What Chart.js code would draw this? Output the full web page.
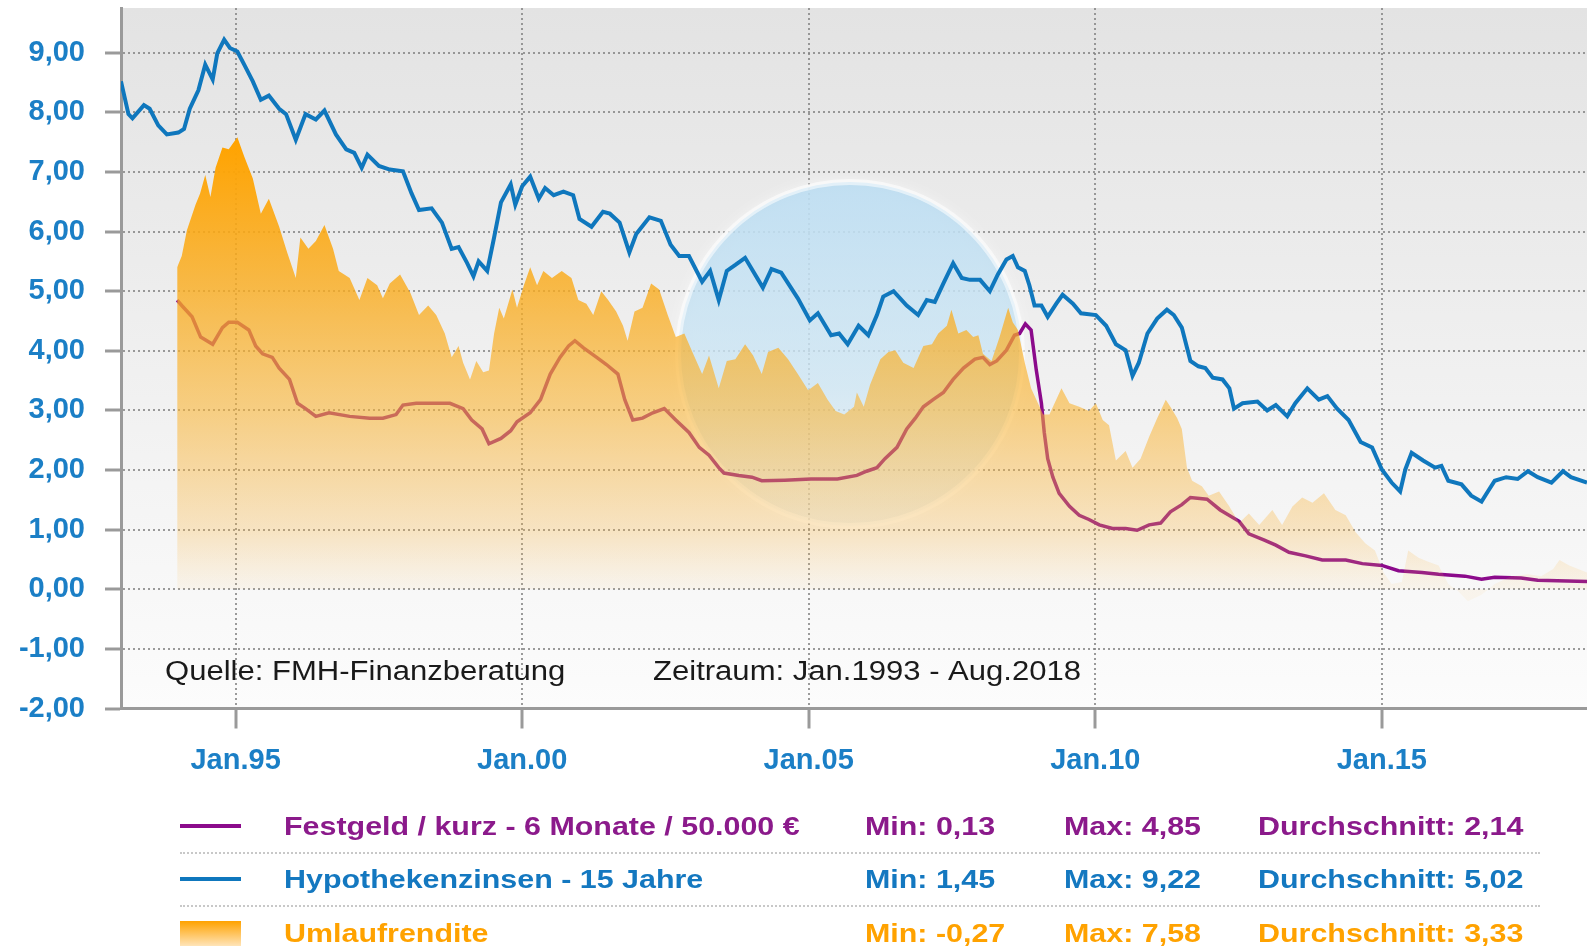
<!DOCTYPE html>
<html lang="de">
<head>
<meta charset="utf-8">
<title>Festgeld, Hypothekenzinsen, Umlaufrendite</title>
<script src="https://cdn.jsdelivr.net/npm/chart.js@4.4.1/dist/chart.umd.min.js"></script>
<style>
    html, body { margin: 0; padding: 0; background: #fff; }
    #wrap { position: relative; width: 1587px; height: 948px; overflow: hidden; }
    #chart { position: absolute; left: 0; top: 0; }
    .lg-text {
        position: absolute;
        font: bold 26px 'Liberation Sans', Arial, sans-serif;
        white-space: nowrap;
        transform: scaleX(1.17);
        transform-origin: left center;
        line-height: 30px;
    }
    .lg-line { position: absolute; left: 180px; width: 61px; height: 4px; }
    .lg-box { position: absolute; left: 180px; width: 61px; height: 25px;
        background: linear-gradient(#ffa200, #ffe4b8); }
    .lg-sep { position: absolute; left: 180px; width: 1360px; border-top: 2px dotted #c8c8c8; }
</style>
</head>
<body>
<div id="wrap">
    <canvas id="chart" width="1587" height="948"></canvas>
    <div id="legend"></div>
</div>
<script>
// Hypothekenzinsen - 15 Jahre
const hypYears = [1993.00, 1993.13, 1993.20, 1993.40, 1993.50, 1993.65, 1993.80, 1994.00, 1994.10, 1994.20,
    1994.35, 1994.47, 1994.60, 1994.68, 1994.80, 1994.90, 1995.03, 1995.15, 1995.30, 1995.44,
    1995.58, 1995.76, 1995.88, 1996.05, 1996.22, 1996.40, 1996.55, 1996.75, 1996.93, 1997.07,
    1997.20, 1997.30, 1997.50, 1997.69, 1997.92, 1998.07, 1998.20, 1998.42, 1998.60, 1998.77,
    1998.89, 1999.04, 1999.15, 1999.24, 1999.39, 1999.51, 1999.63, 1999.80, 1999.88, 2000.00,
    2000.14, 2000.29, 2000.40, 2000.55, 2000.72, 2000.89, 2001.00, 2001.21, 2001.41, 2001.53,
    2001.70, 2001.87, 2001.99, 2002.22, 2002.42, 2002.59, 2002.74, 2002.91, 2003.14, 2003.28,
    2003.43, 2003.57, 2003.72, 2003.89, 2004.20, 2004.35, 2004.52, 2004.81, 2005.02, 2005.16,
    2005.39, 2005.53, 2005.68, 2005.87, 2006.04, 2006.19, 2006.30, 2006.48, 2006.71, 2006.91,
    2007.06, 2007.20, 2007.35, 2007.52, 2007.67, 2007.81, 2007.99, 2008.16, 2008.30, 2008.45,
    2008.56, 2008.65, 2008.77, 2008.85, 2008.94, 2009.06, 2009.17, 2009.32, 2009.43, 2009.61,
    2009.75, 2010.01, 2010.19, 2010.36, 2010.53, 2010.65, 2010.76, 2010.91, 2011.08, 2011.25,
    2011.37, 2011.51, 2011.66, 2011.80, 2011.92, 2012.05, 2012.22, 2012.34, 2012.42, 2012.57,
    2012.83, 2013.00, 2013.15, 2013.35, 2013.49, 2013.70, 2013.90, 2014.05, 2014.22, 2014.42,
    2014.63, 2014.83, 2015.00, 2015.17, 2015.32, 2015.41, 2015.52, 2015.72, 2015.93, 2016.04,
    2016.16, 2016.39, 2016.56, 2016.74, 2016.85, 2016.97, 2017.17, 2017.37, 2017.55, 2017.72,
    2017.96, 2018.16, 2018.30, 2018.58];
const hypValues = [8.52, 7.97, 7.90, 8.12, 8.06, 7.78, 7.63, 7.66, 7.72, 8.06,
    8.37, 8.80, 8.55, 8.99, 9.22, 9.08, 9.02, 8.80, 8.52, 8.21,
    8.28, 8.06, 7.97, 7.54, 7.97, 7.88, 8.03, 7.63, 7.38, 7.32,
    7.07, 7.29, 7.10, 7.04, 7.01, 6.64, 6.36, 6.39, 6.15, 5.71,
    5.74, 5.47, 5.25, 5.50, 5.34, 5.90, 6.49, 6.79, 6.45, 6.76,
    6.92, 6.55, 6.73, 6.61, 6.67, 6.61, 6.21, 6.08, 6.33, 6.30,
    6.15, 5.65, 5.96, 6.24, 6.18, 5.78, 5.59, 5.59, 5.16, 5.34,
    4.85, 5.34, 5.44, 5.56, 5.06, 5.37, 5.31, 4.88, 4.51, 4.63,
    4.26, 4.29, 4.11, 4.42, 4.26, 4.60, 4.91, 5.00, 4.76, 4.60,
    4.85, 4.82, 5.13, 5.47, 5.22, 5.19, 5.19, 5.00, 5.28, 5.53,
    5.59, 5.40, 5.34, 5.10, 4.76, 4.76, 4.57, 4.79, 4.94, 4.79,
    4.63, 4.60, 4.42, 4.11, 4.01, 3.58, 3.80, 4.29, 4.54, 4.69,
    4.60, 4.39, 3.83, 3.74, 3.71, 3.55, 3.52, 3.37, 3.03, 3.12,
    3.15, 3.00, 3.09, 2.90, 3.12, 3.37, 3.18, 3.24, 3.03, 2.84,
    2.47, 2.38, 2.01, 1.79, 1.64, 2.01, 2.29, 2.16, 2.04, 2.07,
    1.82, 1.76, 1.57, 1.47, 1.64, 1.82, 1.88, 1.85, 1.98, 1.88,
    1.79, 1.98, 1.88, 1.79];

// Festgeld / kurz - 6 Monate / 50.000 €
const festYears = [1993.98, 1994.06, 1994.24, 1994.39, 1994.60, 1994.77, 1994.88, 1995.03, 1995.23, 1995.35,
    1995.47, 1995.64, 1995.76, 1995.94, 1996.08, 1996.22, 1996.40, 1996.63, 1996.99, 1997.34,
    1997.57, 1997.80, 1997.92, 1998.15, 1998.74, 1998.97, 1999.12, 1999.30, 1999.42, 1999.63,
    1999.80, 1999.91, 2000.14, 2000.32, 2000.49, 2000.66, 2000.81, 2000.92, 2001.07, 2001.30,
    2001.47, 2001.67, 2001.79, 2001.93, 2002.10, 2002.28, 2002.48, 2002.68, 2002.91, 2003.09,
    2003.26, 2003.43, 2003.52, 2003.78, 2004.01, 2004.18, 2004.58, 2005.04, 2005.50, 2005.84,
    2006.01, 2006.19, 2006.33, 2006.54, 2006.71, 2006.86, 2007.00, 2007.17, 2007.35, 2007.52,
    2007.70, 2007.90, 2008.04, 2008.16, 2008.28, 2008.45, 2008.59, 2008.68, 2008.78, 2008.88,
    2008.97, 2009.06, 2009.11, 2009.17, 2009.26, 2009.37, 2009.55, 2009.72, 2009.89, 2010.07,
    2010.30, 2010.53, 2010.73, 2010.94, 2011.14, 2011.31, 2011.51, 2011.66, 2011.95, 2012.18,
    2012.51, 2012.68, 2012.94, 2013.15, 2013.38, 2013.67, 2013.96, 2014.37, 2014.66, 2015.00,
    2015.29, 2015.70, 2015.99, 2016.45, 2016.74, 2016.97, 2017.43, 2017.72, 2018.58];
const festValues = [4.85, 4.76, 4.57, 4.23, 4.11, 4.39, 4.48, 4.48, 4.35, 4.08,
    3.95, 3.89, 3.71, 3.52, 3.12, 3.03, 2.90, 2.96, 2.90, 2.87,
    2.87, 2.93, 3.09, 3.12, 3.12, 3.03, 2.84, 2.69, 2.44, 2.53,
    2.66, 2.81, 2.96, 3.18, 3.61, 3.89, 4.08, 4.17, 4.05, 3.89,
    3.77, 3.61, 3.18, 2.84, 2.87, 2.96, 3.03, 2.84, 2.63, 2.38,
    2.25, 2.04, 1.95, 1.91, 1.88, 1.82, 1.83, 1.85, 1.85, 1.91,
    1.98, 2.04, 2.19, 2.38, 2.69, 2.87, 3.06, 3.18, 3.30, 3.52,
    3.71, 3.86, 3.89, 3.77, 3.83, 4.01, 4.26, 4.29, 4.45, 4.35,
    3.68, 3.12, 2.63, 2.19, 1.88, 1.61, 1.39, 1.24, 1.17, 1.08,
    1.02, 1.02, 0.99, 1.08, 1.11, 1.30, 1.42, 1.54, 1.51, 1.33,
    1.14, 0.93, 0.83, 0.74, 0.62, 0.56, 0.49, 0.49, 0.43, 0.40,
    0.31, 0.28, 0.25, 0.22, 0.17, 0.20, 0.19, 0.15, 0.13];

// Umlaufrendite
const umlYears = [1993.98, 1994.06, 1994.15, 1994.30, 1994.38, 1994.47, 1994.56, 1994.65, 1994.77, 1994.88,
    1995.03, 1995.15, 1995.30, 1995.44, 1995.58, 1995.76, 1995.90, 1996.05, 1996.13, 1996.27,
    1996.40, 1996.55, 1996.70, 1996.80, 1996.99, 1997.16, 1997.30, 1997.47, 1997.57, 1997.69,
    1997.87, 1998.05, 1998.20, 1998.36, 1998.50, 1998.65, 1998.77, 1998.89, 1998.97, 1999.09,
    1999.20, 1999.32, 1999.42, 1999.51, 1999.60, 1999.68, 1999.83, 1999.91, 2000.03, 2000.14,
    2000.26, 2000.37, 2000.52, 2000.69, 2000.86, 2000.98, 2001.12, 2001.24, 2001.38, 2001.50,
    2001.64, 2001.76, 2001.84, 2001.96, 2002.10, 2002.25, 2002.39, 2002.54, 2002.68, 2002.83,
    2002.97, 2003.14, 2003.26, 2003.43, 2003.57, 2003.72, 2003.89, 2004.03, 2004.18, 2004.29,
    2004.47, 2004.64, 2004.81, 2004.99, 2005.16, 2005.33, 2005.47, 2005.62, 2005.79, 2005.84,
    2005.96, 2006.07, 2006.25, 2006.39, 2006.51, 2006.65, 2006.83, 2007.00, 2007.15, 2007.26,
    2007.41, 2007.49, 2007.61, 2007.75, 2007.87, 2007.96, 2008.04, 2008.19, 2008.33, 2008.48,
    2008.56, 2008.65, 2008.77, 2008.88, 2009.00, 2009.09, 2009.20, 2009.41, 2009.55, 2009.72,
    2009.89, 2010.01, 2010.13, 2010.24, 2010.36, 2010.53, 2010.65, 2010.79, 2010.94, 2011.08,
    2011.23, 2011.31, 2011.43, 2011.51, 2011.60, 2011.69, 2011.86, 2011.98, 2012.16, 2012.34,
    2012.51, 2012.68, 2012.86, 2013.09, 2013.26, 2013.44, 2013.61, 2013.79, 2013.99, 2014.19,
    2014.37, 2014.54, 2014.71, 2014.88, 2015.03, 2015.17, 2015.35, 2015.46, 2015.64, 2015.81,
    2015.99, 2016.16, 2016.33, 2016.50, 2016.74, 2016.97, 2017.26, 2017.55, 2017.78, 2017.99,
    2018.10, 2018.27, 2018.58];
const umlValues = [5.40, 5.59, 6.02, 6.45, 6.64, 6.95, 6.58, 7.07, 7.41, 7.38,
    7.58, 7.26, 6.89, 6.30, 6.55, 6.08, 5.65, 5.22, 5.90, 5.71,
    5.84, 6.11, 5.71, 5.34, 5.22, 4.85, 5.22, 5.10, 4.88, 5.13,
    5.28, 4.97, 4.60, 4.76, 4.60, 4.29, 3.89, 4.08, 3.80, 3.52,
    3.83, 3.64, 3.67, 4.29, 4.72, 4.54, 5.03, 4.72, 5.10, 5.40,
    5.10, 5.34, 5.22, 5.34, 5.22, 4.85, 4.79, 4.60, 5.00, 4.85,
    4.66, 4.42, 4.17, 4.66, 4.72, 5.13, 5.03, 4.60, 4.23, 4.29,
    3.98, 3.61, 3.92, 3.37, 3.83, 3.86, 4.11, 3.92, 3.61, 3.98,
    4.05, 3.86, 3.61, 3.34, 3.46, 3.18, 2.99, 2.93, 3.06, 3.30,
    3.06, 3.43, 3.86, 3.98, 4.01, 3.80, 3.71, 4.08, 4.11, 4.29,
    4.42, 4.69, 4.29, 4.35, 4.23, 4.26, 3.95, 3.83, 4.23, 4.72,
    4.48, 4.35, 3.80, 3.37, 3.12, 2.93, 2.93, 3.37, 3.12, 3.06,
    2.99, 3.12, 2.84, 2.75, 2.16, 2.32, 2.04, 2.19, 2.56, 2.87,
    3.18, 3.06, 2.87, 2.69, 2.04, 1.82, 1.73, 1.57, 1.64, 1.39,
    1.11, 1.27, 1.08, 1.33, 1.08, 1.39, 1.54, 1.45, 1.61, 1.33,
    1.24, 0.96, 0.77, 0.65, 0.28, 0.09, 0.12, 0.65, 0.53, 0.46,
    0.40, 0.09, -0.03, -0.20, -0.09, 0.09, 0.22, 0.25, 0.22, 0.34,
    0.49, 0.40, 0.28];

// Achsen
const xMin = 1993.0;
const xMax = 2018.58;
const xTickYears = [1995, 2000, 2005, 2010, 2015];
const xTickLabels = ['Jan.95', 'Jan.00', 'Jan.05', 'Jan.10', 'Jan.15'];
const yMin = -2;
const yMax = 9.75;
const yTicks = [-2, -1, 0, 1, 2, 3, 4, 5, 6, 7, 8, 9];

// Legende
const legendLabels = ['Festgeld / kurz - 6 Monate / 50.000 €', 'Hypothekenzinsen - 15 Jahre', 'Umlaufrendite'];
const legendMin = ['Min: 0,13', 'Min: 1,45', 'Min: -0,27'];
const legendMax = ['Max: 4,85', 'Max: 9,22', 'Max: 7,58'];
const legendAvg = ['Durchschnitt: 2,14', 'Durchschnitt: 5,02', 'Durchschnitt: 3,33'];
const legendColors = ['#8b1a8b', '#1478c0', '#ffa200'];

const sourceText = 'Quelle: FMH-Finanzberatung';
const periodText = 'Zeitraum: Jan.1993 - Aug.2018';

const FONT = "'Liberation Sans', Arial, sans-serif";
const BLUE = '#0f77bd';
const PURPLE = '#8b0a8b';

function toPoints(xs, ys) {
    return xs.map((x, i) => ({ x: x, y: ys[i] }));
}

function fmt(v) {
    return v.toFixed(2).replace('.', ',');
}

// orange Flaeche, Verlauf nach Hoehe
function orangeFill(context) {
    const chart = context.chart;
    if (!chart.chartArea) return 'rgba(255,165,0,0.6)';
    const y = chart.scales.y;
    const g = chart.ctx.createLinearGradient(0, y.getPixelForValue(7.5), 0, y.getPixelForValue(0));
    g.addColorStop(0, 'rgba(255,163,0,1)');
    g.addColorStop(0.33, 'rgba(250,172,30,0.8)');
    g.addColorStop(0.6, 'rgba(250,180,50,0.58)');
    g.addColorStop(0.87, 'rgba(250,180,60,0.28)');
    g.addColorStop(1, 'rgba(250,190,90,0.08)');
    return g;
}

const backgroundPlugin = {
    id: 'plotBackground',
    beforeDraw(chart) {
        const { ctx, chartArea } = chart;
        ctx.save();
        ctx.fillStyle = '#fff';
        ctx.fillRect(0, 0, chart.width, chart.height);
        const g = ctx.createLinearGradient(0, chartArea.top, 0, chartArea.bottom);
        g.addColorStop(0, '#e3e3e3');
        g.addColorStop(1, '#fcfcfc');
        ctx.fillStyle = g;
        ctx.fillRect(chartArea.left, chartArea.top, chartArea.right - chartArea.left, chartArea.bottom - chartArea.top);
        ctx.restore();
    },
    beforeDatasetsDraw(chart) {
        // Wasserzeichen
        const ctx = chart.ctx;
        const cx = 850, cy = 354, r = 172;
        ctx.save();
        const g = ctx.createLinearGradient(0, cy - r, 0, cy + r);
        g.addColorStop(0, 'rgba(175,215,240,0.75)');
        g.addColorStop(0.6, 'rgba(185,220,240,0.55)');
        g.addColorStop(1, 'rgba(215,230,240,0.35)');
        ctx.shadowColor = 'rgba(255,255,255,0.9)';
        ctx.shadowBlur = 14;
        ctx.beginPath();
        ctx.arc(cx, cy, r, 0, Math.PI * 2);
        ctx.fillStyle = g;
        ctx.fill();
        ctx.shadowBlur = 0;
        ctx.lineWidth = 6;
        ctx.strokeStyle = 'rgba(255,255,255,0.55)';
        ctx.stroke();
        ctx.restore();
    },
    afterDatasetsDraw(chart) {
        const ctx = chart.ctx;
        ctx.save();
        ctx.fillStyle = '#1a1a1a';
        ctx.font = '27px ' + FONT;
        ctx.textBaseline = 'middle';
        [[sourceText, 165], [periodText, 653]].forEach(([t, x]) => {
            ctx.save();
            ctx.translate(x, 673);
            ctx.scale(1.15, 1);
            ctx.fillText(t, 0, 0);
            ctx.restore();
        });
        ctx.restore();
    }
};

const gridStyle = {
    color: 'rgba(130,130,130,0.8)',
    lineWidth: 2,
    tickColor: '#9a9a9a',
    tickWidth: 3
};

new Chart(document.getElementById('chart'), {
    type: 'line',
    data: {
        datasets: [
            {
                label: legendLabels[1],
                data: toPoints(hypYears, hypValues),
                borderColor: BLUE,
                borderWidth: 4,
                pointRadius: 0,
                fill: false,
                order: 1
            },
            {
                label: legendLabels[2],
                data: toPoints(umlYears, umlValues),
                borderWidth: 0,
                borderColor: 'rgba(0,0,0,0)',
                backgroundColor: orangeFill,
                pointRadius: 0,
                fill: 'origin',
                order: 2
            },
            {
                label: legendLabels[0],
                data: toPoints(festYears, festValues),
                borderColor: PURPLE,
                borderWidth: 3.5,
                pointRadius: 0,
                fill: false,
                order: 3
            }
        ]
    },
    options: {
        responsive: false,
        animation: false,
        devicePixelRatio: 1,
        layout: { padding: { left: 0, right: 0, top: 8, bottom: 169.5 } },
        plugins: {
            legend: { display: false },
            tooltip: { enabled: false }
        },
        scales: {
            x: {
                type: 'linear',
                min: xMin,
                max: xMax,
                afterBuildTicks(scale) {
                    scale.ticks = xTickYears.map(v => ({ value: v }));
                },
                afterFit(scale) {
                    scale.height = 70;
                    scale.paddingLeft = 0;
                    scale.paddingRight = 0;
                },
                grid: Object.assign({ tickLength: 20 }, gridStyle),
                border: { display: true, color: '#9a9a9a', width: 3, dash: [2, 3] },
                ticks: {
                    autoSkip: false,
                    maxRotation: 0,
                    padding: 15,
                    color: '#1b7fc6',
                    font: { family: FONT, size: 29, weight: 'bold' },
                    callback: (v, i) => xTickLabels[i]
                }
            },
            y: {
                type: 'linear',
                min: yMin,
                max: yMax,
                afterBuildTicks(scale) {
                    scale.ticks = yTicks.map(v => ({ value: v }));
                },
                afterFit(scale) {
                    scale.width = 121;
                    scale.paddingTop = 0;
                    scale.paddingBottom = 0;
                },
                grid: Object.assign({ tickLength: 16 }, gridStyle),
                border: { display: true, color: '#9a9a9a', width: 3, dash: [2, 3] },
                ticks: {
                    autoSkip: false,
                    padding: 20,
                    color: '#1b7fc6',
                    font: { family: FONT, size: 29, weight: 'bold' },
                    callback: v => fmt(v)
                }
            }
        }
    },
    plugins: [backgroundPlugin]
});

// Legende unter dem Diagramm
function buildLegend() {
    const legend = document.getElementById('legend');
    const rowY = [826, 879, 933];
    const cols = [284, 865, 1064, 1258];
    const symbolColors = [PURPLE, BLUE];
    let html = '';
    legendLabels.forEach((label, i) => {
        const y = rowY[i];
        if (i < 2) {
            html += `<div class="lg-line" style="top:${y - 2}px;background:${symbolColors[i]}"></div>`;
        } else {
            html += `<div class="lg-box" style="top:${y - 12}px"></div>`;
        }
        [label, legendMin[i], legendMax[i], legendAvg[i]].forEach((t, c) => {
            html += `<div class="lg-text" style="left:${cols[c]}px;top:${y - 15}px;color:${legendColors[i]}">${t}</div>`;
        });
        if (i < 2) {
            html += `<div class="lg-sep" style="top:${y + 26}px"></div>`;
        }
    });
    legend.innerHTML = html;
}

buildLegend();
</script>
</body>
</html>
